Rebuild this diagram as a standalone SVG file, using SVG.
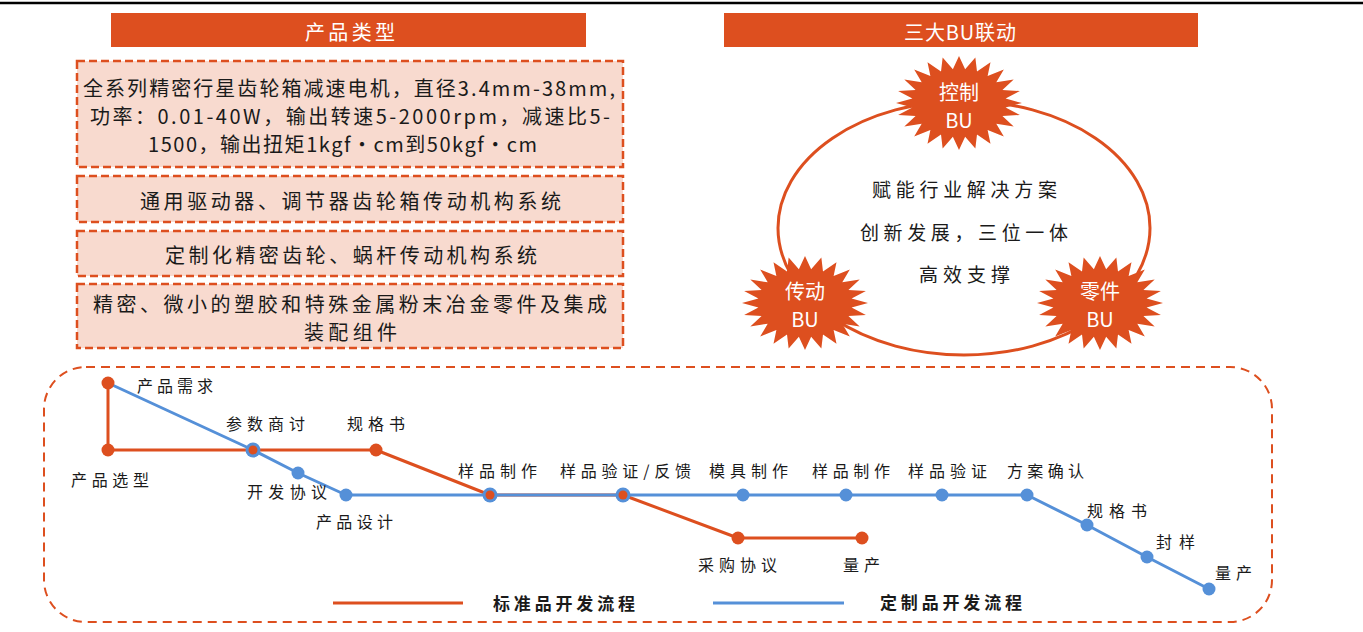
<svg xmlns="http://www.w3.org/2000/svg" xmlns:xlink="http://www.w3.org/1999/xlink" width="1363" height="632" viewBox="0 0 1363 632">
<style>
text{font-family:"Noto Sans CJK SC","Noto Sans",sans-serif;dominant-baseline:central}
.hdr{fill:#DD4F1F}
.hdrt{fill:#fff;font-size:20px}
.box{fill:#F8DACF;stroke:#DD4F1F;stroke-width:2.5;stroke-dasharray:8 4}
.bt{fill:#1a1a1a;font-size:20px}
.ct{fill:#1a1a1a;font-size:19px}
.st{fill:#fff;font-size:20px;text-anchor:middle}
.lb{fill:#1a1a1a;font-size:16px}
.lg{fill:#1a1a1a;font-size:17px;font-weight:bold}
.red{fill:none;stroke:#DD4F1F;stroke-width:3;stroke-linejoin:round}
.blue{fill:none;stroke:#5590D8;stroke-width:3;stroke-linejoin:round}
.rn{fill:#DD4F1F}
.bn{fill:#5590D8}
</style>
<defs>
<polygon id="star" fill="#DD4F1F" points="63,0 46.6,4.44 60.89,11.91 43.42,13.01 54.69,23.5 37.29,20.7 44.84,33.53 28.61,26.97 31.5,40.84 17.99,31.41 16.35,45.43 6.13,33.71 0,47 -6.13,33.71 -16.35,45.43 -17.99,31.41 -31.5,40.84 -28.61,26.97 -44.84,33.53 -37.29,20.7 -54.69,23.5 -43.42,13.01 -60.89,11.91 -46.6,4.44 -63,0 -46.6,-4.44 -60.89,-11.91 -43.42,-13.01 -54.69,-23.5 -37.29,-20.7 -44.84,-33.53 -28.61,-26.97 -31.5,-40.84 -17.99,-31.41 -16.35,-45.43 -6.13,-33.71 0,-47 6.13,-33.71 16.35,-45.43 17.99,-31.41 31.5,-40.84 28.61,-26.97 44.84,-33.53 37.29,-20.7 54.69,-23.5 43.42,-13.01 60.89,-11.91 46.6,-4.44"/>
</defs>
<rect width="1363" height="632" fill="#fff"/>
<line x1="0" y1="3" x2="1363" y2="3" stroke="#000" stroke-width="2.5"/>

<g id="header-products">
<rect class="hdr" x="111" y="13" width="475" height="34"/>
<text class="hdrt" x="305" y="31" textLength="90" lengthAdjust="spacing">产品类型</text>
</g>
<g id="header-bu">
<rect class="hdr" x="724" y="13" width="474" height="34"/>
<text class="hdrt" x="904" y="31" textLength="112" lengthAdjust="spacing">三大BU联动</text>
</g>

<g id="box1">
<rect class="box" x="77" y="61" width="546" height="106"/>
<text class="bt" x="83" y="87" textLength="532" lengthAdjust="spacing">全系列精密行星齿轮箱减速电机，直径3.4mm-38mm,</text>
<text class="bt" x="90" y="115" textLength="520" lengthAdjust="spacing">功率：0.01-40W，输出转速5-2000rpm，减速比5-</text>
<text class="bt" x="148" y="143" textLength="389" lengthAdjust="spacing">1500，输出扭矩1kgf•cm到50kgf•cm</text>
</g>
<g id="box2">
<rect class="box" x="77" y="176" width="546" height="46"/>
<text class="bt" x="140" y="200" textLength="421" lengthAdjust="spacing">通用驱动器、调节器齿轮箱传动机构系统</text>
</g>
<g id="box3">
<rect class="box" x="77" y="231" width="546" height="45"/>
<text class="bt" x="165" y="254" textLength="372" lengthAdjust="spacing">定制化精密齿轮、蜗杆传动机构系统</text>
</g>
<g id="box4">
<rect class="box" x="77" y="284" width="546" height="64"/>
<text class="bt" x="93" y="303" textLength="514" lengthAdjust="spacing">精密、微小的塑胶和特殊金属粉末冶金零件及集成</text>
<text class="bt" x="304" y="331" textLength="93" lengthAdjust="spacing">装配组件</text>
</g>

<g id="bu-cycle">
<ellipse cx="964" cy="228" rx="186" ry="127" fill="none" stroke="#DD4F1F" stroke-width="3"/>
<text class="ct" x="872" y="188" textLength="185" lengthAdjust="spacing">赋能行业解决方案</text>
<text class="ct" x="860" y="231" textLength="208" lengthAdjust="spacing">创新发展，三位一体</text>
<text class="ct" x="919" y="273" textLength="91" lengthAdjust="spacing">高效支撑</text>
</g>
<g id="bu-control">
<use href="#star" xlink:href="#star" x="959" y="103"/>
<text class="st" x="959" y="91">控制</text>
<text class="st" x="959" y="119">BU</text>
</g>
<g id="bu-transmission">
<use href="#star" xlink:href="#star" x="805" y="303"/>
<text class="st" x="805" y="290">传动</text>
<text class="st" x="805" y="318">BU</text>
</g>
<g id="bu-parts">
<use href="#star" xlink:href="#star" x="1100" y="303"/>
<text class="st" x="1100" y="290">零件</text>
<text class="st" x="1100" y="318">BU</text>
</g>

<g id="process-frame">
<rect x="44" y="367" width="1228" height="255" rx="42" ry="42" fill="none" stroke="#DD4F1F" stroke-width="2" stroke-dasharray="9 6"/>
</g>

<g id="connectors">
<polyline class="red" points="108,383 108,450 253,450 376,450 490,495 623,495 738,538 862,538"/>
<polyline class="blue" points="108,383 253,450 298,473 346,495 1027,495 1087,525 1147,557 1209,589"/>
<line x1="333" y1="603" x2="463" y2="603" stroke="#DD4F1F" stroke-width="3"/>
<line x1="713" y1="603" x2="844" y2="603" stroke="#5590D8" stroke-width="3"/>
</g>

<g id="n-demand"><circle class="rn" cx="108" cy="383" r="6.5"/><text class="lb" x="137" y="385" textLength="76" lengthAdjust="spacing">产品需求</text></g>
<g id="n-select"><circle class="rn" cx="108" cy="450" r="6.5"/><text class="lb" x="71" y="479" textLength="78" lengthAdjust="spacing">产品选型</text></g>
<g id="n-param"><circle class="bn" cx="253" cy="450" r="7.5"/><circle class="rn" cx="253" cy="450" r="4.5"/><text class="lb" x="226" y="423" textLength="79" lengthAdjust="spacing">参数商讨</text></g>
<g id="n-spec1"><circle class="rn" cx="376" cy="450" r="6.5"/><text class="lb" x="347" y="423" textLength="58" lengthAdjust="spacing">规格书</text></g>
<g id="n-devagr"><circle class="bn" cx="298" cy="473" r="6.5"/><text class="lb" x="247" y="491" textLength="80" lengthAdjust="spacing">开发协议</text></g>
<g id="n-design"><circle class="bn" cx="346" cy="495" r="6.5"/><text class="lb" x="316" y="521" textLength="77" lengthAdjust="spacing">产品设计</text></g>
<g id="n-sample1"><circle class="bn" cx="490" cy="495" r="7.5"/><circle class="rn" cx="490" cy="495" r="4.5"/><text class="lb" x="458" y="470" textLength="79" lengthAdjust="spacing">样品制作</text></g>
<g id="n-verify1"><circle class="bn" cx="623" cy="495" r="7.5"/><circle class="rn" cx="623" cy="495" r="4.5"/><text class="lb" x="560" y="470" textLength="131" lengthAdjust="spacing">样品验证/反馈</text></g>
<g id="n-mold"><circle class="bn" cx="743" cy="495" r="6.5"/><text class="lb" x="709" y="470" textLength="79" lengthAdjust="spacing">模具制作</text></g>
<g id="n-sample2"><circle class="bn" cx="846" cy="495" r="6.5"/><text class="lb" x="812" y="470" textLength="78" lengthAdjust="spacing">样品制作</text></g>
<g id="n-verify2"><circle class="bn" cx="942" cy="495" r="6.5"/><text class="lb" x="908" y="470" textLength="79" lengthAdjust="spacing">样品验证</text></g>
<g id="n-confirm"><circle class="bn" cx="1027" cy="495" r="6.5"/><text class="lb" x="1007" y="470" textLength="77" lengthAdjust="spacing">方案确认</text></g>
<g id="n-spec2"><circle class="bn" cx="1087" cy="525" r="6.5"/><text class="lb" x="1087" y="510" textLength="60" lengthAdjust="spacing">规格书</text></g>
<g id="n-seal"><circle class="bn" cx="1147" cy="557" r="6.5"/><text class="lb" x="1156" y="541" textLength="39" lengthAdjust="spacing">封样</text></g>
<g id="n-mass2"><circle class="bn" cx="1209" cy="589" r="6.5"/><text class="lb" x="1215" y="572" textLength="37" lengthAdjust="spacing">量产</text></g>
<g id="n-purchase"><circle class="rn" cx="738" cy="538" r="6.5"/><text class="lb" x="698" y="564" textLength="79" lengthAdjust="spacing">采购协议</text></g>
<g id="n-mass1"><circle class="rn" cx="862" cy="538" r="6.5"/><text class="lb" x="843" y="564" textLength="37" lengthAdjust="spacing">量产</text></g>

<g id="legend">
<text class="lg" x="493" y="602" textLength="142" lengthAdjust="spacing">标准品开发流程</text>
<text class="lg" x="880" y="601" textLength="142" lengthAdjust="spacing">定制品开发流程</text>
</g>
</svg>
